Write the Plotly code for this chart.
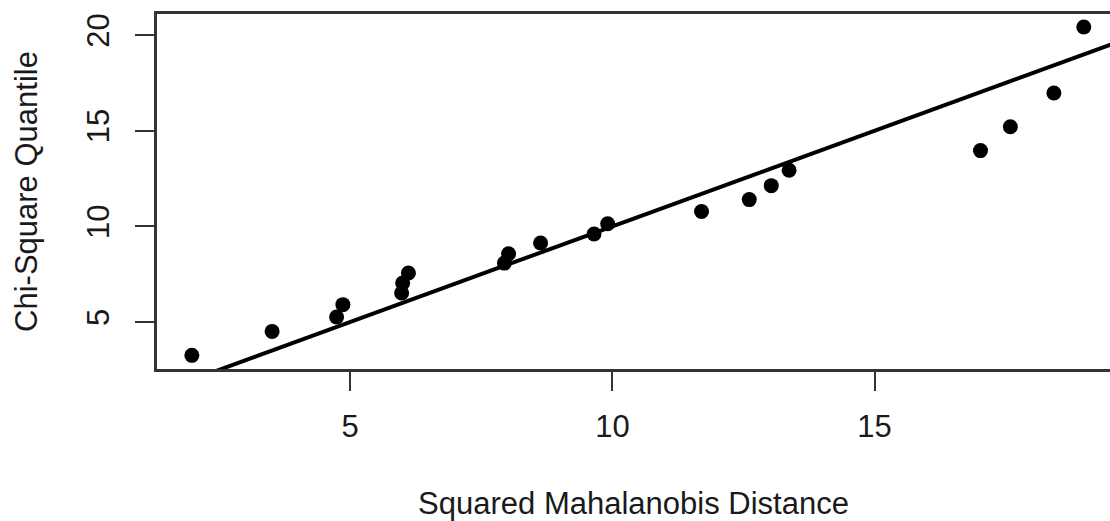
import plotly.graph_objects as go

# Squared Mahalanobis distances (x) and chi-square quantiles (y)
mahal_d2 = [1.98, 3.51, 4.74, 4.86, 5.98, 6.00, 6.11, 7.94, 8.02, 8.63, 9.65,
            9.91, 11.70, 12.61, 13.03, 13.37, 17.02, 17.59, 18.42, 18.99]
chisq_q = [3.26, 4.51, 5.26, 5.91, 6.52, 7.04, 7.56, 8.08, 8.57, 9.13, 9.60,
           10.14, 10.78, 11.40, 12.13, 12.93, 13.96, 15.21, 16.97, 20.42]

# reference line y = a + b x
line_intercept = 0.0
line_slope = 1.0
line_x = [0.0, 25.0]
line_y = [line_intercept + line_slope * v for v in line_x]

x_ticks = [5, 10, 15]
y_ticks = [5, 10, 15, 20]

x_title = "Squared Mahalanobis Distance"
y_title = "Chi-Square Quantile"

FONT = "Liberation Sans, Arial, sans-serif"
TXT = "#1a1a1a"
FS = 31

fig = go.Figure()
fig.add_trace(go.Scatter(x=mahal_d2, y=chisq_q, mode="markers",
                         marker=dict(color="black", size=15), showlegend=False))
fig.add_trace(go.Scatter(x=line_x, y=line_y, mode="lines",
                         line=dict(color="black", width=4), showlegend=False))

fig.update_layout(
    width=1110, height=521,
    margin=dict(l=157, r=0, t=14, b=152),
    paper_bgcolor="white", plot_bgcolor="white",
    font=dict(family=FONT, size=FS, color=TXT),
    xaxis=dict(range=[1.315, 19.49], tickvals=x_ticks, ticktext=[str(t) for t in x_ticks],
               showgrid=False, zeroline=False, showline=True, mirror=True,
               linecolor="#333333", linewidth=2.5, automargin=False,
               ticks="outside", ticklen=19, tickwidth=2, tickcolor="#333333",
               tickfont=dict(family=FONT, size=FS, color=TXT),
               ticklabelstandoff=9,
               title=dict(text=x_title, standoff=52, font=dict(family=FONT, size=FS, color=TXT))),
    yaxis=dict(range=[2.546, 21.10], tickvals=y_ticks, ticktext=[str(t) for t in y_ticks],
               showgrid=False, zeroline=False, showline=True, mirror=False,
               linecolor="#333333", linewidth=2.5, automargin=False,
               ticks="outside", ticklen=19, tickwidth=2, tickcolor="#333333",
               tickfont=dict(family=FONT, size=FS, color=TXT),
               tickangle=-90, ticklabelstandoff=14,
               title=dict(text=y_title, standoff=34, font=dict(family=FONT, size=FS, color=TXT))),
)

fig.write_html("out.html", config={"displayModeBar": False},
               post_script="document.body.style.margin='0';")
